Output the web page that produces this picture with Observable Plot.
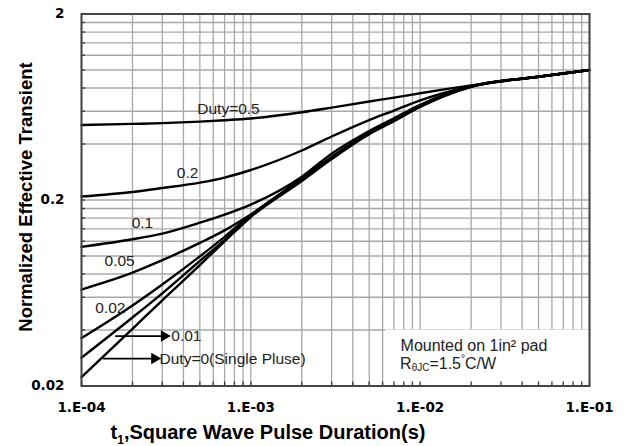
<!DOCTYPE html>
<html>
<head>
<meta charset="utf-8">
<script src="https://cdn.jsdelivr.net/npm/d3@7"></script>
<script src="https://cdn.jsdelivr.net/npm/@observablehq/plot@0.6"></script>
<style>
  html, body { margin: 0; padding: 0; background: #fff; }
  #chart svg { display: block; }
</style>
</head>
<body>
<div id="chart"></div>
<script>
// ---- data ----
const tVals   = [1e-4, 2e-4, 3e-4, 5e-4, 7e-4, 1e-3, 2e-3, 3e-3, 5e-3, 7e-3, 1e-2, 2e-2, 5e-2, 1e-1];
const duty05  = [0.506, 0.513, 0.518, 0.528, 0.537, 0.549, 0.593, 0.628, 0.677, 0.71, 0.75, 0.826, 0.92, 1.0];
const duty02  = [0.209, 0.221, 0.232, 0.248, 0.264, 0.29, 0.369, 0.439, 0.538, 0.605, 0.686, 0.818, 0.92, 1.0];
const duty01  = [0.112, 0.123, 0.132, 0.151, 0.167, 0.189, 0.267, 0.355, 0.47, 0.55, 0.65, 0.815, 0.92, 1.0];
const duty005 = [0.066, 0.0813, 0.0949, 0.1176, 0.1373, 0.167, 0.262, 0.341, 0.462, 0.541, 0.643, 0.817, 0.92, 1.0];
const duty002 = [0.0362, 0.0542, 0.0703, 0.0995, 0.1268, 0.1663, 0.259, 0.338, 0.459, 0.538, 0.64, 0.815, 0.92, 1.0];
const duty001 = [0.0284, 0.0467, 0.063, 0.094, 0.1216, 0.164, 0.256, 0.335, 0.456, 0.535, 0.637, 0.814, 0.92, 1.0];
const duty0   = [0.0223, 0.0406, 0.0578, 0.0893, 0.120, 0.162, 0.253, 0.332, 0.452, 0.531, 0.633, 0.812, 0.92, 1.0];
const dutyNames = ["0.5", "0.2", "0.1", "0.05", "0.02", "0.01", "0"];
const dutySeries = [duty05, duty02, duty01, duty005, duty002, duty001, duty0];

const xMajor  = [1e-4, 1e-3, 1e-2, 1e-1];
const xLabels = ["1.E-04", "1.E-03", "1.E-02", "1.E-01"];
const yMajor  = [0.02, 0.2, 2];
const yLabels = ["0.02", "0.2", "2"];
const xGrid = [1e-4,2e-4,3e-4,4e-4,5e-4,6e-4,7e-4,8e-4,9e-4,
               1e-3,2e-3,3e-3,4e-3,5e-3,6e-3,7e-3,8e-3,9e-3,
               1e-2,2e-2,3e-2,4e-2,5e-2,6e-2,7e-2,8e-2,9e-2,1e-1];
const yGrid = [0.02,0.04,0.06,0.08,0.1,0.12,0.14,0.16,0.18,0.2,0.4,0.6,0.8,1,1.2,1.4,1.6,1.8,2];

// curve labels
const labelText = ["Duty=0.5", "0.2", "0.1", "0.05", "0.02"];
const labelT    = [7.38e-4, 4.23e-4, 2.29e-4, 1.68e-4, 1.48e-4];
const labelV    = [0.614, 0.281, 0.1496, 0.0934, 0.0528];
// arrow labels
const arrowText = ["0.01", "Duty=0(Single Pluse)"];
const arrowT1   = [1.59e-4, 1.35e-4];
const arrowT2   = [3.08e-4, 2.70e-4];
const arrowTxtT = [3.39e-4, 2.89e-4];
const arrowV    = [0.0371, 0.0281];
// note box
const boxX = [6.25e-3, 1e-1];
const boxY = [0.02, 0.04];
const noteText = ["Mounted on 1in² pad"];
const noteT = 7.66e-3;
const noteV = [0.033, 0.0264];

// ---- build tables ----
const lineData = dutySeries.flatMap((s, k) => tVals.map((t, i) => ({t, v: s[i], duty: dutyNames[k]})));
const labels = labelText.map((text, i) => ({text, t: labelT[i], v: labelV[i]}));
const arrows = arrowText.map((text, i) => ({text, t1: arrowT1[i], t2: arrowT2[i], tt: arrowTxtT[i], v: arrowV[i]}));
const box = [{x1: boxX[0], x2: boxX[1], y1: boxY[0], y2: boxY[1]}];
const notes = [{text: noteText[0], t: noteT, v: noteV[0]}];

const W = 627, H = 446, mL = 81, mR = 38, mT = 13.5, mB = 60.5;
const plotW = W - mL - mR, plotH = H - mT - mB;
const sans = "'Liberation Sans', Arial, sans-serif";
const bold = "'DejaVu Sans', Verdana, sans-serif";

const chart = Plot.plot({
  width: W, height: H,
  marginLeft: mL, marginRight: mR, marginTop: mT, marginBottom: mB,
  x: {type: "log", domain: [1e-4, 1e-1]},
  y: {type: "log", domain: [0.02, 2]},
  style: {background: "#fff", color: "#000", overflow: "visible"},
  marks: [
    Plot.ruleX(xGrid, {x: d => d, stroke: "#a8a8a8", strokeWidth: 1.3}),
    Plot.ruleY(yGrid, {y: d => d, stroke: "#a8a8a8", strokeWidth: 1.3}),
    Plot.rect(box, {x1: "x1", x2: "x2", y1: "y1", y2: "y2", fill: "#fff"}),
    Plot.ruleX(xGrid, {x: d => d, insetTop: plotH - 4, stroke: "#333", strokeWidth: 1.3}),
    Plot.ruleY(yGrid, {y: d => d, insetRight: plotW - 4, stroke: "#333", strokeWidth: 1.3}),
    Plot.line(lineData, {x: "t", y: "v", z: "duty", stroke: "#000", strokeWidth: 2.4, curve: "monotone-x"}),
    Plot.text(labels, {x: "t", y: "v", text: "text", fontSize: 15.5, fontFamily: sans, fill: "#222", ariaLabel: "curve-label"}),
    Plot.ruleY(arrows, {x1: "t1", x2: "t2", y: "v", stroke: "#000", strokeWidth: 1.8}),
    Plot.dot(arrows, {x: "t2", y: "v", symbol: "triangle2", rotate: 90, r: 5.5, fill: "#000", stroke: "none"}),
    Plot.text(arrows, {x: "tt", y: "v", text: "text", textAnchor: "start", fontSize: 15.5, fontFamily: sans, fill: "#222", ariaLabel: "curve-label"}),
    Plot.text(notes, {x: "t", y: "v", text: "text", textAnchor: "start", fontSize: 16, fontFamily: sans, fill: "#222"}),
    Plot.frame({stroke: "#444", strokeWidth: 2}),
    Plot.axisX(xMajor, {tickFormat: d => xLabels[xMajor.indexOf(d)], tickSize: 0, tickPadding: 16, fontSize: 13.5, fontWeight: "bold", fontFamily: bold, fill: "#000", label: null}),
    Plot.axisY(yMajor, {tickFormat: d => yLabels[yMajor.indexOf(d)], tickSize: 0, tickPadding: 17, fontSize: 13.5, fontWeight: "bold", fontFamily: bold, fill: "#000", label: null})
  ]
});
document.getElementById("chart").appendChild(chart);

// ---- extra text: titles and note ----
const svg = d3.select(chart);
const xs = chart.scale("x"), ys = chart.scale("y");
svg.selectAll("g[aria-label='curve-label'] text")
   .style("filter", "drop-shadow(1.5px 2px 1.5px rgba(0,0,0,0.45))");

svg.append("text")
  .attr("transform", "translate(25,197) rotate(-90)")
  .attr("text-anchor", "middle").attr("dominant-baseline", "central")
  .attr("font-family", sans).attr("font-weight", "bold").attr("font-size", 18.5)
  .attr("fill", "#000")
  .text("Normalized Effective Transient");

const xt = svg.append("text")
  .attr("x", 268).attr("y", 439)
  .attr("text-anchor", "middle")
  .attr("font-family", sans).attr("font-weight", "bold").attr("font-size", 20)
  .attr("fill", "#000");
xt.append("tspan").text("t");
xt.append("tspan").attr("font-size", 12).attr("dy", 5).text("1");
xt.append("tspan").attr("dy", -5).text(",Square Wave Pulse Duration(s)");

const nx = xs.apply(noteT);
const n2 = svg.append("text").attr("x", nx).attr("y", ys.apply(noteV[1]))
  .attr("text-anchor", "start")
  .attr("dominant-baseline", "central")
  .attr("font-family", sans).attr("font-size", 16).attr("fill", "#222");
n2.append("tspan").text("R");
n2.append("tspan").attr("font-size", 10).attr("dy", 4).text("θJC");
n2.append("tspan").attr("dy", -4).text("=1.5");
n2.append("tspan").attr("font-size", 10).attr("dy", -5).text("°");
n2.append("tspan").attr("dy", 5).text("C/W");
</script>
</body>
</html>
